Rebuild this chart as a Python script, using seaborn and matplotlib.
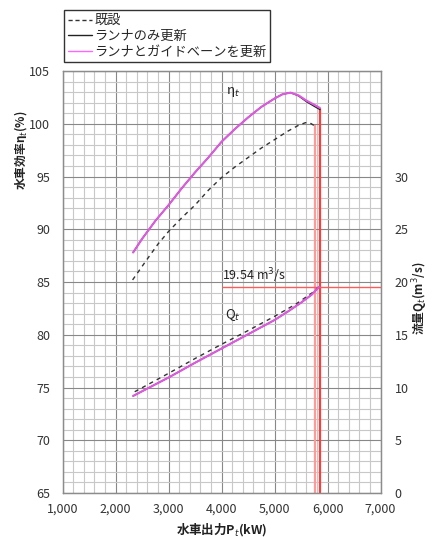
import numpy as np
import pandas as pd
import seaborn as sns
import matplotlib.pyplot as plt
from matplotlib.lines import Line2D
from matplotlib.ticker import MultipleLocator, FuncFormatter

# data: efficiency (left axis, %)
p_old = [2320, 2600, 2800, 3000, 3250, 3500, 3750, 4000, 4250, 4500, 4750,
         5000, 5250, 5450, 5580, 5660, 5740]
eta_old = [85.2, 87.2, 88.6, 89.8, 91.1, 92.3, 93.7, 94.9, 95.9, 96.8, 97.7,
           98.5, 99.3, 99.85, 100.1, 100.1, 99.85]
p_new = [2330, 2500, 2750, 3000, 3250, 3500, 3750, 4000, 4250, 4500, 4750,
         5000, 5150, 5300, 5450, 5600, 5750, 5855]
eta_gv = [87.8, 89.1, 90.8, 92.3, 93.9, 95.4, 96.8, 98.3, 99.5, 100.6, 101.6,
          102.4, 102.8, 102.95, 102.7, 102.2, 101.8, 101.5]
eta_run = [87.8, 89.1, 90.8, 92.3, 93.9, 95.4, 96.8, 98.3, 99.5, 100.6, 101.6,
           102.4, 102.8, 102.95, 102.65, 102.1, 101.65, 101.35]

# data: discharge (right axis, m3/s)
pq_old = [2360, 3000, 3500, 4000, 4500, 5000, 5400, 5600, 5730, 5820]
q_old = [9.6, 11.35, 12.75, 14.1, 15.4, 16.75, 17.9, 18.6, 19.05, 19.5]
pq_new = [2330, 2750, 3000, 3500, 4000, 4500, 5000, 5250, 5500, 5700, 5840]
q_new = [9.2, 10.3, 10.95, 12.35, 13.7, 15.05, 16.4, 17.2, 18.05, 18.8, 19.54]

# guide lines
max_old = [5760, 99.85]
max_new = [5855, 101.5]
q_rated = 19.54
q_line_start = 4000

sns.set_theme(style="white")
plt.rcParams['font.family'] = ['Noto Sans CJK JP', 'DejaVu Sans']
plt.rcParams['mathtext.fontset'] = 'dejavusans'
plt.rcParams['axes.unicode_minus'] = False

magenta = '#dc5ade'
fig = plt.figure(figsize=(4.32, 5.38), dpi=100)
ax = fig.add_axes([0.145, 0.0836, 0.736, 0.7844])
ax2 = ax.twinx()

ax.set_xlim(1000, 7000)
ax.set_ylim(65, 105)
ax2.set_ylim(0, 40)

ax.xaxis.set_major_locator(MultipleLocator(1000))
ax.xaxis.set_minor_locator(MultipleLocator(200))
ax.yaxis.set_major_locator(MultipleLocator(5))
ax.yaxis.set_minor_locator(MultipleLocator(1))
ax.xaxis.set_major_formatter(FuncFormatter(lambda v, _: f"{int(v):,}"))
ax2.set_yticks(np.arange(0, 31, 5))
ax.grid(which='major', color='#888888', lw=0.8)
ax.grid(which='minor', color='#c8c8c8', lw=0.8)
ax.set_axisbelow(True)
ax2.grid(False)
for a in (ax, ax2):
    for s in a.spines.values():
        s.set_color('#8c8c8c')
        s.set_linewidth(0.9)
ax.tick_params(axis='x', which='both', length=0, pad=7, labelsize=9, colors='#333333')
ax.tick_params(axis='y', which='both', length=0, pad=9, labelsize=9, colors='#333333')
ax2.tick_params(axis='y', length=0, pad=10, labelsize=9, colors='#333333')

# guide lines
ax.vlines([max_old[0]], 65, max_old[1], color='#ff9a9a', lw=1.6, zorder=2)
ax.vlines([max_new[0]], 65, max_new[1], color='#ff3c3c', lw=1.6, zorder=2)
ax2.hlines([q_rated], q_line_start, 7000, color='#ff5a5a', lw=1.0, zorder=2)

# efficiency curves
sns.lineplot(x=p_old, y=eta_old, ax=ax, color='#333333', lw=1.0,
             linestyle=(0, (3, 3)), sort=False, estimator=None, zorder=3)
sns.lineplot(x=p_new, y=eta_run, ax=ax, color='#222222', lw=1.0, sort=False,
             estimator=None, zorder=3)
sns.lineplot(x=p_new, y=eta_gv, ax=ax, color=magenta, lw=1.5, sort=False,
             estimator=None, zorder=4)

# discharge curves
sns.lineplot(x=pq_old, y=q_old, ax=ax2, color='#333333', lw=1.0,
             linestyle=(0, (3, 3)), sort=False, estimator=None, zorder=3)
sns.lineplot(x=pq_new, y=q_new, ax=ax2, color='#222222', lw=1.0, sort=False,
             estimator=None, zorder=3)
sns.lineplot(x=pq_new, y=q_new, ax=ax2, color=magenta, lw=1.5, sort=False,
             estimator=None, zorder=4)

ax.text(4213, 103.0, 'η$_t$', fontsize=9.5, ha='center', va='center', color='#222222')
ax2.text(4219, 16.9, 'Q$_t$', fontsize=9.5, ha='center', va='center', color='#222222')
ax2.text(4010, 19.75, '19.54 m$^3$/s', fontsize=9, ha='left', va='bottom', color='#222222')

ax.set_xlabel('水車出力P$_t$(kW)', fontsize=9, fontweight='bold', labelpad=4, color='#222222')
ax.set_ylabel('')
ax2.set_ylabel('')
fig.text(0.048, 0.72, '水車効率η$_t$(%)', rotation=90, fontsize=8.5, fontweight='bold',
         ha='center', va='center', color='#222222')
fig.text(0.972, 0.445, '流量Q$_t$(m$^3$/s)', rotation=90, fontsize=8.5, fontweight='bold',
         ha='center', va='center', color='#222222')

handles = [Line2D([], [], color='#333333', lw=1.0, linestyle=(0, (3, 2))),
           Line2D([], [], color='#222222', lw=1.0),
           Line2D([], [], color='#ff66ff', lw=1.0)]
labels = ['既設', 'ランナのみ更新', 'ランナとガイドベーンを更新']
leg = fig.legend(handles, labels, loc='upper left', bbox_to_anchor=(0.148, 0.981),
                 frameon=True, fancybox=False, framealpha=1, edgecolor='#333333',
                 fontsize=9.5, handlelength=1.8, handletextpad=0.2, labelspacing=0.2,
                 borderpad=0.3, borderaxespad=0)
leg.get_frame().set_linewidth(1.0)
leg.set_zorder(10)

fig.savefig('out.png', dpi=100)
